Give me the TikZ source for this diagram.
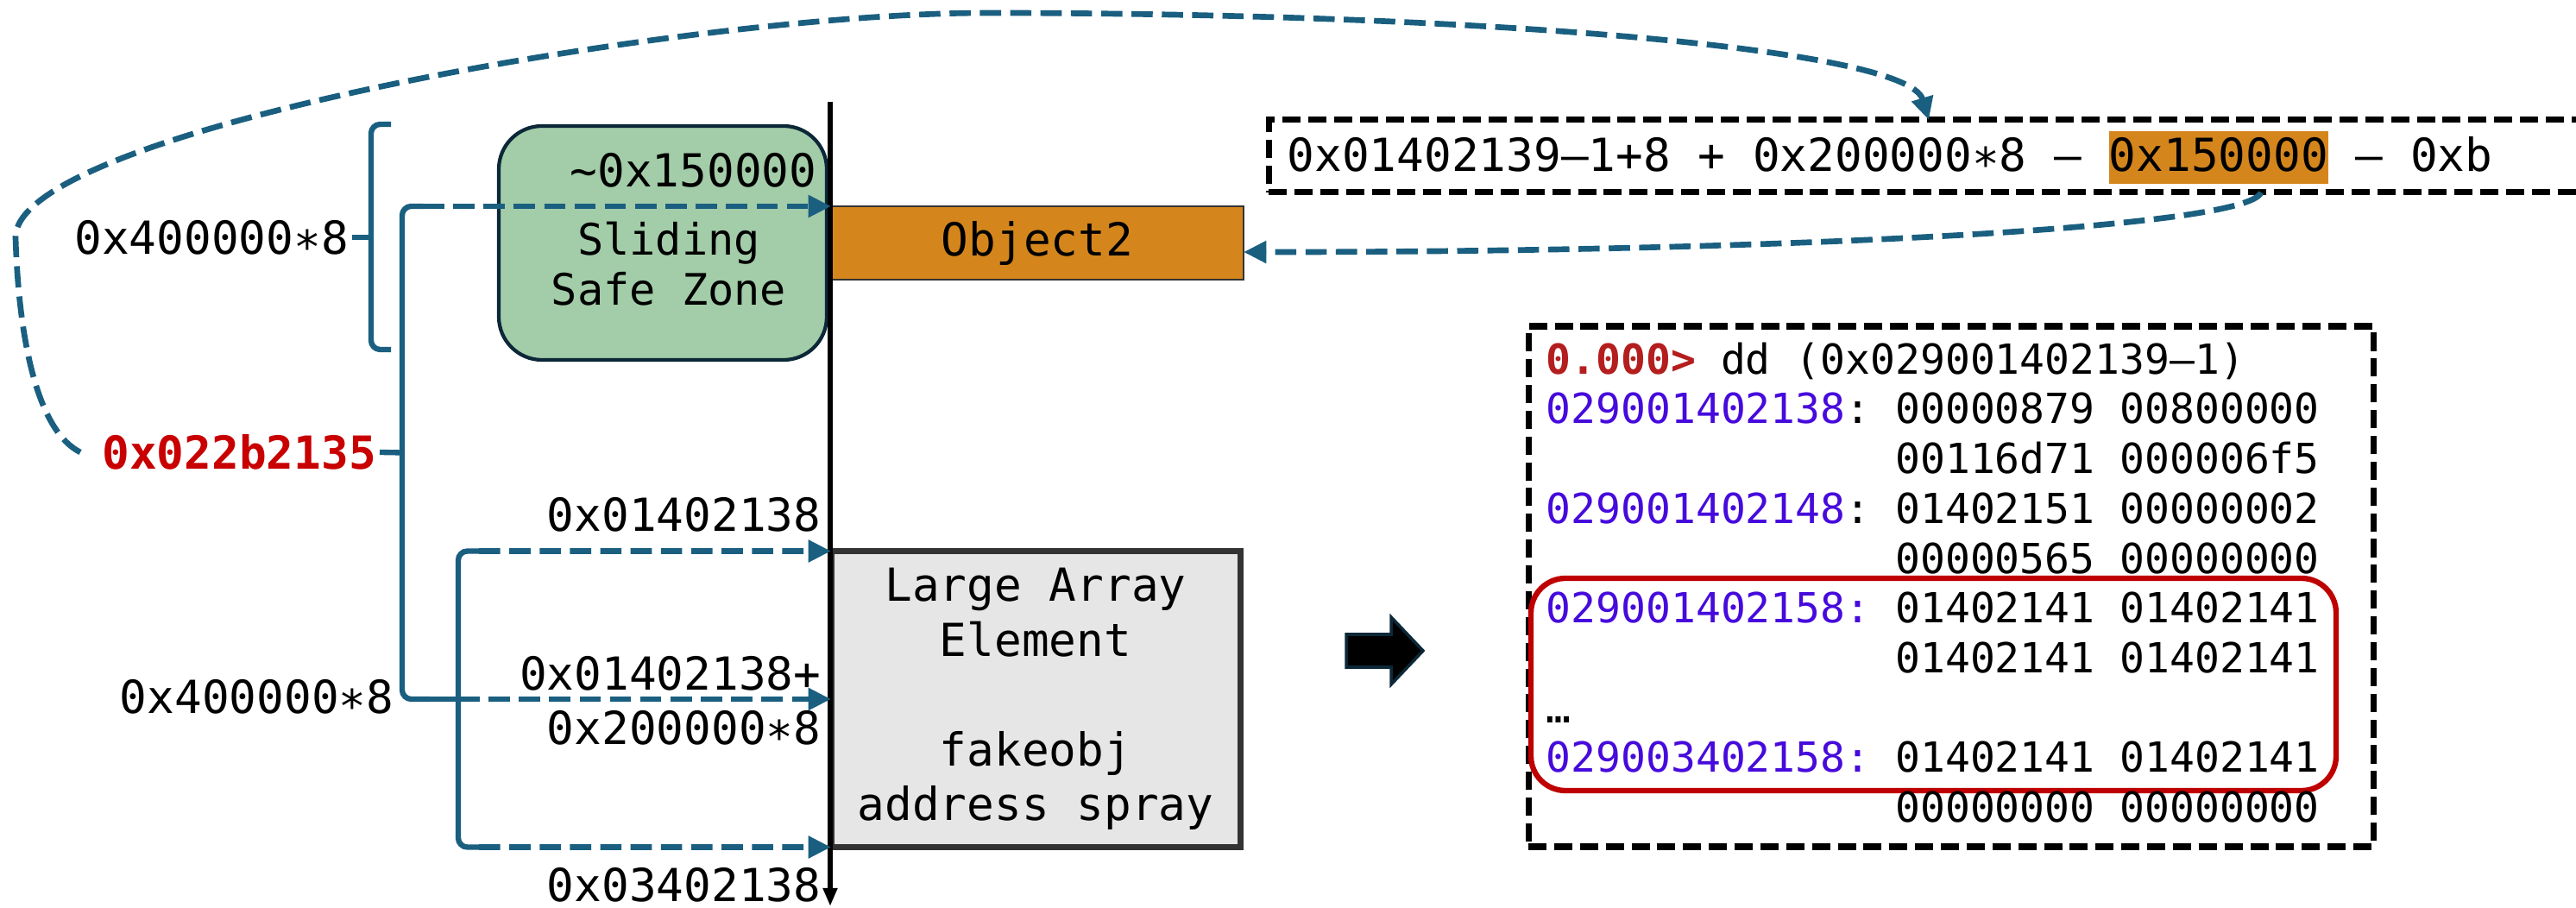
\documentclass[tikz,border=0pt]{standalone}
\usepackage{fontspec}
\setmonofont{DejaVu Sans Mono}
\usepackage{xcolor}
\usepackage{tikz}
\usetikzlibrary{arrows.meta, positioning}
\definecolor{cteal}  {RGB}{26,95,128}
\definecolor{cgreen} {RGB}{163,204,168}
\definecolor{cnavy}  {RGB}{12,40,56}
\definecolor{corange}{RGB}{212,134,28}
\definecolor{cgrayf} {RGB}{230,230,230}
\definecolor{cgrayd} {RGB}{51,51,51}
\definecolor{cred}   {RGB}{200,0,0}
\definecolor{cbox}   {RGB}{190,0,0}
\definecolor{cprompt}{RGB}{180,30,30}
\definecolor{cpurple}{RGB}{70,10,220}
\newcommand{\memfont}{\ttfamily\fontsize{15}{18.1}\selectfont}
\newcommand{\dumpfont}{\ttfamily\fontsize{13.66}{16.42}\selectfont}
\newcommand{\dpad}{\hphantom{029001402138: }}
\newcommand{\daddr}[1]{\textcolor{cpurple}{#1}}
\tikzset{
  zonebox/.style={rectangle, rounded corners=5mm, draw=cnavy, line width=1.2pt,
                  fill=cgreen, minimum width=3.80cm, minimum height=2.71cm, outer sep=0pt},
  membox/.style={rectangle, draw=cgrayd, fill=#1, outer sep=0pt, inner sep=0pt,
                 font=\memfont, align=center},
  dbox/.style={rectangle, draw=black, line width=2pt,
               dash pattern=on 6pt off 2.5pt, outer sep=0pt},
  lbl/.style={font=\memfont, inner sep=1pt},
  brk/.style={line width=1.8pt, color=cteal, rounded corners=3pt},
  ptr/.style={-{Triangle[length=7.5pt,width=7pt]}, line width=1.9pt, color=cteal,
              dash pattern=on 7pt off 3pt},
  axis/.style={-{Triangle[length=6pt,width=4.5pt]}, line width=1.5pt},
}

\begin{document}
\begin{tikzpicture}
  \useasboundingbox (0,0) rectangle (29.85,-10.52);
  \clip (0,0) rectangle (29.85,-10.52);

  % ── Memory column ─────────────────────────────────────────────────────────
  \node[zonebox] at (7.68,-2.815) (zone) {};
  \node[lbl, align=center, font=\ttfamily\fontsize{14.3}{16.5}\selectfont]
      at (7.75,-3.06) (zonetxt) {Sliding\\Safe Zone};
  \node[lbl, anchor=east] at (9.505,-1.97) (zsize) {\textasciitilde0x150000};

  \node[membox=corange, line width=0.7pt, minimum width=4.78cm,
        minimum height=0.85cm] at (12.02,-2.815) (obj) {Object2};
  \node[membox=cgrayf, line width=2pt, minimum width=4.74cm,
        minimum height=3.43cm] at (12.00,-8.10) (spray)
      {Large Array\\Element\\[18pt]fakeobj\\address spray};

  \coordinate (axtop) at (9.62,-1.18);
  \coordinate (axbot) at (9.62,-10.50);
  \draw[axis] (axtop) -- (axbot);

  % ── Address labels ────────────────────────────────────────────────────────
  \node[lbl, anchor=east] at (9.555,-5.96) (base) {0x01402138};
  \node[lbl, anchor=east] at (9.555,-7.80) (midhi) {0x01402138+};
  \node[lbl, anchor=east] at (9.555,-8.43) (midlo) {0x200000∗8};
  \node[lbl, anchor=east] at (9.555,-10.25) (last) {0x03402138};

  \node[lbl, anchor=east] at (4.08,-2.75) (span1) {0x400000∗8};
  \node[lbl, anchor=east, text=cred, font=\memfont\bfseries]
      at (4.40,-5.24) (target) {0x022b2135};
  \node[lbl, anchor=east] at (4.605,-8.07) (span2) {0x400000∗8};

  % ── Brackets ──────────────────────────────────────────────────────────────
  \draw[brk] (4.53,-1.44) -- (4.30,-1.44) -- (4.30,-4.05) -- (4.53,-4.05);
  \draw[brk] (4.30,-2.75) -- (span1.east);

  \coordinate (b2top) at (4.90,-2.39);
  \draw[brk] (b2top) -- (4.66,-2.39) -- (4.66,-8.10) -- (4.98,-8.10);
  \draw[brk] (4.66,-5.245) -- (target.east);

  \coordinate (b3top) at (5.55,-6.385);
  \coordinate (b3mid) at (5.31,-8.10);
  \coordinate (b3bot) at (5.55,-9.815);
  \draw[brk] (b3top) -- (5.31,-6.385) -- (5.31,-9.815) -- (b3bot);
  \draw[brk] (b3mid) -- (4.98,-8.10);

  % ── Pointers into the column ──────────────────────────────────────────────
  \draw[ptr] (b2top) -- (obj.north west);
  \draw[ptr] (b3top) -- (spray.north west);
  \draw[ptr] (b3mid) -- (spray.west);
  \draw[ptr] (b3bot) -- (spray.south west);

  % ── Formula ───────────────────────────────────────────────────────────────
  \node[dbox, minimum width=15.30cm, minimum height=0.84cm]
      at (22.35,-1.81) (fbox) {};
  \node[lbl, anchor=base west, inner sep=0pt] at (14.91,-1.99) (fml)
      {0x01402139–1+8 + 0x200000∗8 – {\fboxsep=0pt\colorbox{corange}%
       {\rule[-0.27em]{0pt}{1.17em}0x150000}} – 0xb};
  \coordinate (fsrc) at (26.20,-2.23);

  \draw[ptr] ([xshift=-6pt]target.west)
      .. controls (0.45,-5.00) and (0.22,-4.00) .. (0.18,-2.75)
      .. controls (0.18,-1.50) and (8.00,-0.15) .. (11.43,-0.15)
      .. controls (17.00,-0.15) and (22.10,-0.55) .. (fbox.north);
  \draw[ptr] (fsrc) .. controls (26.05,-2.65) and (20.50,-2.92)
      .. ([yshift=-3pt]obj.east);

  % ── Block arrow ───────────────────────────────────────────────────────────
  \draw[fill=black, draw=cnavy, line width=1pt]
      (15.60,-7.35) -- (16.12,-7.35) -- (16.12,-7.15) -- (16.49,-7.54)
      -- (16.12,-7.93) -- (16.12,-7.73) -- (15.60,-7.73) -- cycle;

  % ── Memory dump ───────────────────────────────────────────────────────────
  \node[dbox, minimum width=9.79cm, minimum height=6.03cm]
      at (22.605,-6.795) (dump) {};
  \node[rectangle, rounded corners=4mm, draw=cbox, line width=1.8pt,
        minimum width=9.33cm, minimum height=2.46cm] at (22.405,-7.93) (hit) {};
  \node[anchor=north west, align=left, inner sep=0pt, font=\dumpfont]
      at (17.91,-3.96) (dumplines) {%
    {\color{cprompt}\bfseries 0.000>} dd (0x029001402139–1)\\
    \daddr{029001402138}: 00000879 00800000\\
    \dpad 00116d71 000006f5\\
    \daddr{029001402148}: 01402151 00000002\\
    \dpad 00000565 00000000\\
    \daddr{029001402158:} 01402141 01402141\\
    \dpad 01402141 01402141\\
    …\\
    \daddr{029003402158:} 01402141 01402141\\
    \dpad 00000000 00000000};
\end{tikzpicture}
\end{document}
